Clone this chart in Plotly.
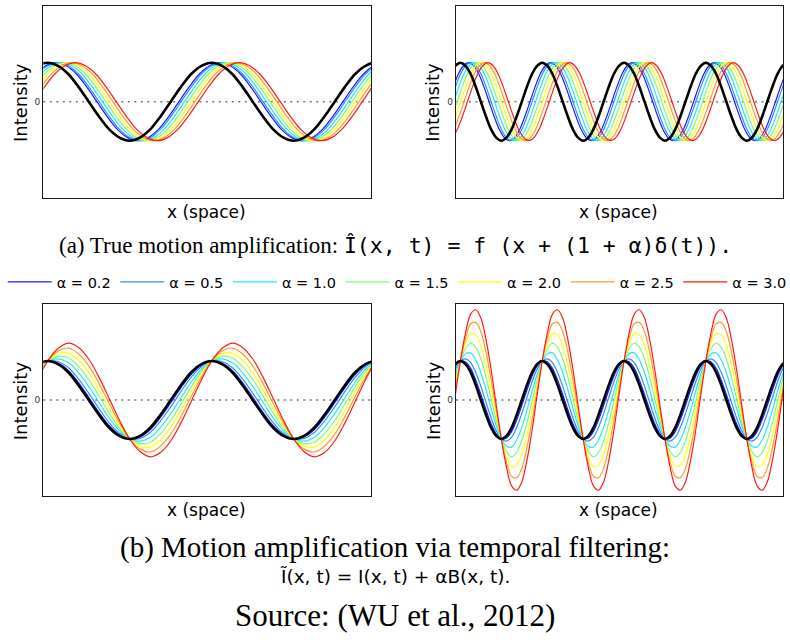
import plotly.graph_objects as go

# ---------------- data ----------------
alphas = [0.2, 0.5, 1.0, 1.5, 2.0, 2.5, 3.0]
alpha_labels = ["α = 0.2", "α = 0.5", "α = 1.0", "α = 1.5", "α = 2.0", "α = 2.5", "α = 3.0"]
alpha_colors = ["#1a1aff", "#2f8fff", "#22e6ff", "#7cfc7c", "#ffff00", "#ff9a30", "#ff1a1a"]

# one period of the black (original) intensity profile, 16 samples per period
wave_profile = [1.00, 0.92, 0.71, 0.38, 0.00, -0.38, -0.71, -0.92,
                -1.00, -0.92, -0.71, -0.38, 0.00, 0.38, 0.71, 0.92]
# one period of the band-passed signal B (quarter period behind the profile)
band_profile = [0.00, 0.38, 0.71, 0.92, 1.00, 0.92, 0.71, 0.38,
                0.00, -0.38, -0.71, -0.92, -1.00, -0.92, -0.71, -0.38]

# spatial period of the left / right column (x units)
periods = [1.0, 0.5]
# displacement of each alpha curve in the true-amplification panels (x units)
true_shift = [0.050, 0.063, 0.084, 0.105, 0.126, 0.147, 0.168]
# gain of B in the temporal-filtering panels (left, right)
band_gain = [0.35, 0.70]

x_range = [-0.027, 1.973]
y_range = [-2.46, 2.46]

# ---------------- layout geometry (pixels) ----------------
W, H = 790, 642
col_px = [(43.3, 371.3), (456.0, 783.3)]
row_px = [(5.7, 197.7), (304.0, 496.0)]


def xdom(c):
    return [col_px[c][0] / W, col_px[c][1] / W]


def ydom(r):
    return [1 - row_px[r][1] / H, 1 - row_px[r][0] / H]


def samples(period):
    n = len(wave_profile)
    i0 = -n
    i1 = int(round(2.1 / period * n)) + n
    xs, ys, bs = [], [], []
    for i in range(i0, i1 + 1):
        xs.append(i * period / n)
        ys.append(wave_profile[i % n])
        bs.append(band_profile[i % n])
    return xs, ys, bs


fig = go.Figure()

panels = [(0, 0), (0, 1), (1, 0), (1, 1)]  # (row, col)
for k, (r, c) in enumerate(panels):
    ax = "" if k == 0 else str(k + 1)
    xref, yref = "x" + ax, "y" + ax
    xs, ys, bs = samples(periods[c])
    for j, a in enumerate(alphas):
        if r == 0:
            cx = [v + true_shift[j] for v in xs]
            cy = ys
        else:
            cx = xs
            cy = [y + a * band_gain[c] * b for y, b in zip(ys, bs)]
        fig.add_trace(go.Scatter(
            x=cx, y=cy, mode="lines", xaxis=xref, yaxis=yref,
            line=dict(color=alpha_colors[j], width=1.2, shape="spline", smoothing=1),
            name=alpha_labels[j], showlegend=(k == 0), hoverinfo="skip"))
    fig.add_trace(go.Scatter(
        x=xs, y=ys, mode="lines", xaxis=xref, yaxis=yref,
        line=dict(color="black", width=2.6, shape="spline", smoothing=1),
        showlegend=False, hoverinfo="skip"))

    axis_common = dict(showline=True, mirror=True, linecolor="#1a1a1a", linewidth=1.3,
                       showgrid=False, zeroline=False, fixedrange=True)
    fig.update_layout(**{
        "xaxis" + ax: dict(domain=xdom(c), range=x_range, showticklabels=False, ticks="",
                           anchor=yref, **axis_common),
        "yaxis" + ax: dict(domain=ydom(r), range=y_range, tickvals=[0], ticktext=["0"],
                           ticks="", tickfont=dict(family="DejaVu Sans", size=9, color="#333"),
                           anchor=xref, **axis_common),
    })
    fig.add_shape(type="line", xref=xref + " domain", yref=yref, x0=0, x1=1, y0=0, y1=0,
                  line=dict(color="#777", width=1.4, dash="2px,4.5px"), layer="below")

    # axis labels
    cx_lab = (col_px[c][0] + col_px[c][1]) / 2
    fig.add_annotation(x=(cx_lab - 1) / W, y=1 - (row_px[r][1] + 14.5) / H, xref="paper", yref="paper",
                       xanchor="center", yanchor="middle",
                       text="x (space)", showarrow=False,
                       font=dict(family="DejaVu Sans", size=17, color="black"))
    fig.add_annotation(x=(col_px[c][0] - 23) / W, y=1 - ((row_px[r][0] + row_px[r][1]) / 2 + 1) / H,
                       xref="paper", yref="paper", xanchor="center", yanchor="middle",
                       text="Intensity", textangle=-90, showarrow=False,
                       font=dict(family="DejaVu Sans", size=18, color="black"))

serif = "Liberation Serif"
span_a = '<span style="font-family:\'DejaVu Sans Mono\';font-size:21.5px">'
span_b = '<span style="font-family:\'DejaVu Sans\';font-size:18.5px">'
fig.add_annotation(x=0.5, y=1 - 246 / H, xref="paper", yref="paper", showarrow=False,
                   xanchor="center", yanchor="middle",
                   text="(a) True motion amplification: " + span_a +
                        "Î(x, t) = f (x + (1 + α)δ(t)).</span>",
                   font=dict(family=serif, size=23, color="black"))
fig.add_annotation(x=0.5, y=1 - 547 / H, xref="paper", yref="paper", showarrow=False,
                   xanchor="center", yanchor="middle",
                   text="(b) Motion amplification via temporal filtering:",
                   font=dict(family=serif, size=29, color="black"))
fig.add_annotation(x=0.5, y=1 - 576 / H, xref="paper", yref="paper", showarrow=False,
                   xanchor="center", yanchor="middle",
                   text=span_b + "Ĩ(x, t) = I(x, t) + αB(x, t).</span>",
                   font=dict(family=serif, size=22, color="black"))
fig.add_annotation(x=0.5, y=1 - 615 / H, xref="paper", yref="paper", showarrow=False,
                   xanchor="center", yanchor="middle",
                   text="Source: (WU et al., 2012)",
                   font=dict(family=serif, size=31, color="black"))

fig.update_layout(
    width=W, height=H, margin=dict(l=0, r=0, t=0, b=0, autoexpand=False),
    paper_bgcolor="white", plot_bgcolor="white",
    showlegend=True,
    legend=dict(orientation="h", x=2.7 / W, y=1 - 282 / H, xanchor="left", yanchor="middle",
                entrywidth=53.6, entrywidthmode="pixels", itemwidth=44,
                font=dict(family="DejaVu Sans", size=14.5, color="black"),
                bgcolor="rgba(0,0,0,0)", tracegroupgap=0),
)

fig.write_html("out.html", config={"displayModeBar": False},
               post_script="document.body.style.margin='0px';")
